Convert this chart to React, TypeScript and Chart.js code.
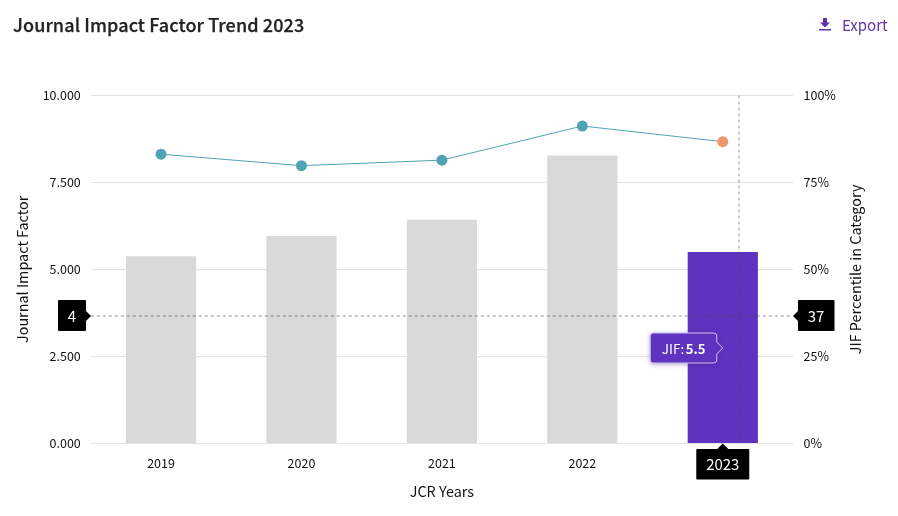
import React, { useEffect, useRef } from "react";
import { Chart, registerables } from "chart.js";

Chart.register(...registerables);

const FONT = '"Noto Sans CJK SC", "Noto Sans", sans-serif';
const PURPLE = "#5e33bf";
const TEAL = "#4fa3b5";
const ORANGE = "#f0976b";
const GREY = "#d9d9d9";

const years = ["2019", "2020", "2021", "2022", "2023"];
const jifValues = [5.38, 5.96, 6.43, 8.27, 5.5];
const percentileValues = [83.1, 79.8, 81.4, 91.2, 86.7];
const jifTicks = [0, 2.5, 5, 7.5, 10];
const crosshairJif = 3.65;
const crosshairYear = 4;
const crosshairOffsetPx = 16;
const leftLabel = "4";
const rightLabel = "37";
const bottomLabel = "2023";
const rightAxisTitle = "JIF Percentile in Category";

function roundedRect(ctx: CanvasRenderingContext2D, x: number, y: number, w: number, h: number, r: number) {
  ctx.beginPath();
  ctx.roundRect(x, y, w, h, r);
}

const overlay = {
  id: "overlay",
  afterDatasetsDraw(chart: any) {
    const { ctx, chartArea, scales } = chart;
    const cy = Math.round(scales.y.getPixelForValue(crosshairJif));
    const barX = scales.x.getPixelForValue(crosshairYear);
    const cx = Math.round(barX + crosshairOffsetPx);

    ctx.save();
    ctx.strokeStyle = "rgba(70,70,70,0.4)";
    ctx.lineWidth = 1.5;
    ctx.setLineDash([3, 3]);
    ctx.beginPath();
    ctx.moveTo(chartArea.left, cy);
    ctx.lineTo(chartArea.right, cy);
    ctx.moveTo(cx, chartArea.top);
    ctx.lineTo(cx, chartArea.bottom);
    ctx.stroke();
    ctx.setLineDash([]);

    ctx.textAlign = "center";
    ctx.textBaseline = "middle";
    ctx.font = `15px ${FONT}`;

    // left value flag
    ctx.fillStyle = "#000";
    roundedRect(ctx, 58, cy - 16, 28, 31, 1);
    ctx.fill();
    ctx.beginPath();
    ctx.moveTo(85, cy - 6);
    ctx.lineTo(91, cy);
    ctx.lineTo(85, cy + 6);
    ctx.fill();
    ctx.fillStyle = "#fff";
    ctx.fillText(leftLabel, 72, cy);

    // right value flag
    ctx.fillStyle = "#000";
    roundedRect(ctx, 798, cy - 16, 36.5, 31, 1);
    ctx.fill();
    ctx.beginPath();
    ctx.moveTo(799, cy - 6);
    ctx.lineTo(793, cy);
    ctx.lineTo(799, cy + 6);
    ctx.fill();
    ctx.fillStyle = "#fff";
    ctx.fillText(rightLabel, 816, cy);

    // bottom year flag
    const b = chartArea.bottom;
    ctx.fillStyle = "#fff";
    ctx.fillRect(barX - 30, b + 6, 60, 32);
    ctx.fillStyle = "#000";
    roundedRect(ctx, barX - 26.5, b + 5.5, 53, 30.5, 1);
    ctx.fill();
    ctx.beginPath();
    ctx.moveTo(barX - 6, b + 6);
    ctx.lineTo(barX, b);
    ctx.lineTo(barX + 6, b + 6);
    ctx.fill();
    ctx.fillStyle = "#fff";
    ctx.fillText(bottomLabel, barX, b + 21);

    // JIF tooltip
    const tipRight = barX - 6;
    const tipTop = cy + 17;
    ctx.save();
    ctx.shadowColor = "rgba(60,30,120,0.45)";
    ctx.shadowBlur = 5;
    ctx.shadowOffsetY = 1;
    ctx.fillStyle = PURPLE;
    ctx.beginPath();
    ctx.roundRect(tipRight - 66.5, tipTop, 66.5, 30, 3);
    ctx.fill();
    ctx.restore();
    ctx.fillStyle = PURPLE;
    ctx.strokeStyle = "#cfc3ee";
    ctx.lineWidth = 1;
    ctx.beginPath();
    ctx.moveTo(tipRight - 63.5, tipTop);
    ctx.lineTo(tipRight - 3, tipTop);
    ctx.quadraticCurveTo(tipRight, tipTop, tipRight, tipTop + 3);
    ctx.lineTo(tipRight, tipTop + 9);
    ctx.lineTo(tipRight + 6, tipTop + 15);
    ctx.lineTo(tipRight, tipTop + 21);
    ctx.lineTo(tipRight, tipTop + 27);
    ctx.quadraticCurveTo(tipRight, tipTop + 30, tipRight - 3, tipTop + 30);
    ctx.lineTo(tipRight - 63.5, tipTop + 30);
    ctx.quadraticCurveTo(tipRight - 66.5, tipTop + 30, tipRight - 66.5, tipTop + 27);
    ctx.lineTo(tipRight - 66.5, tipTop + 3);
    ctx.quadraticCurveTo(tipRight - 66.5, tipTop, tipRight - 63.5, tipTop);
    ctx.closePath();
    ctx.fill();
    ctx.stroke();
    ctx.fillStyle = "#fff";
    ctx.textAlign = "left";
    ctx.font = `13.5px ${FONT}`;
    ctx.fillText("JIF:", tipRight - 55, tipTop + 16);
    ctx.font = `bold 13px ${FONT}`;
    ctx.fillText(jifValues[crosshairYear].toFixed(1), tipRight - 31, tipTop + 16);

    // right axis title, reading upward
    ctx.translate(856, (chartArea.top + chartArea.bottom) / 2);
    ctx.rotate(-Math.PI / 2);
    ctx.textAlign = "center";
    ctx.fillStyle = "#111";
    ctx.font = `14.4px ${FONT}`;
    ctx.fillText(rightAxisTitle, 0, 0);
    ctx.restore();
  },
};

export default function App() {
  const ref = useRef<HTMLCanvasElement>(null);

  useEffect(() => {
    const chart = new Chart(ref.current!, {
      type: "bar",
      data: {
        labels: years,
        datasets: [
          {
            type: "line",
            label: "JIF Percentile",
            data: percentileValues,
            yAxisID: "y1",
            borderColor: TEAL,
            borderWidth: 1,
            tension: 0,
            pointRadius: 5.5,
            pointHoverRadius: 5.5,
            pointBorderWidth: 0,
            pointBackgroundColor: years.map((_, i) => (i === crosshairYear ? ORANGE : TEAL)),
            order: 0,
          } as any,
          {
            type: "bar",
            label: "Journal Impact Factor",
            data: jifValues,
            yAxisID: "y",
            backgroundColor: years.map((_, i) => (i === crosshairYear ? PURPLE : GREY)),
            categoryPercentage: 1,
            barPercentage: 0.5,
            order: 1,
          } as any,
        ],
      },
      options: {
        responsive: false,
        animation: false,
        devicePixelRatio: 1,
        layout: { padding: { top: 95.4, left: 0, right: 0, bottom: 0 } },
        plugins: { legend: { display: false }, tooltip: { enabled: false } },
        scales: {
          x: {
            offset: true,
            afterFit: (s: any) => { s.height = 72.6; },
            grid: { display: false },
            border: { display: false },
            ticks: { color: "#111", padding: 4, font: { family: FONT, size: 12.5 }, maxRotation: 0 },
            title: { display: true, text: "JCR Years", color: "#111", font: { family: FONT, size: 14.4 }, padding: { top: 0, bottom: 16 } },
          },
          y: {
            position: "left",
            min: 0,
            max: 10,
            afterFit: (s: any) => { s.width = 90.8; },
            afterBuildTicks: (s: any) => { s.ticks = jifTicks.map((value) => ({ value })); },
            grid: { color: "#e3e3e3", drawTicks: false, lineWidth: 1 },
            border: { display: false },
            ticks: { color: "#111", padding: 10, font: { family: FONT, size: 12.5 }, callback: (v: any) => Number(v).toFixed(3) },
            title: { display: true, text: "Journal Impact Factor", color: "#111", font: { family: FONT, size: 14.4 }, padding: { top: 14, bottom: 0 } },
          },
          y1: {
            position: "right",
            min: 0,
            max: 100,
            afterFit: (s: any) => { s.width = 105; },
            grid: { display: false, drawTicks: false },
            border: { display: false },
            ticks: { stepSize: 25, color: "#111", padding: 10.5, font: { family: FONT, size: 12.5 }, callback: (v: any) => `${v}%` },
          },
        },
      },
      plugins: [overlay],
    });
    return () => chart.destroy();
  }, []);

  return (
    <div style={{ position: "fixed", left: 0, top: 0, width: 898, height: 516, background: "#fff", fontFamily: FONT }}>
      <canvas ref={ref} width={898} height={516} style={{ display: "block" }} />
      <div style={{ position: "absolute", left: 13, top: 10, fontSize: 18, lineHeight: "28px", fontWeight: 500, color: "#222", whiteSpace: "nowrap", letterSpacing: 0.1, WebkitTextStroke: "0.25px #222" }}>
        Journal Impact Factor Trend 2023
      </div>
      <div style={{ position: "absolute", left: 819, top: 11.5, display: "flex", alignItems: "center", color: "#5e33a8", fontSize: 15, lineHeight: "26px" }}>
        <svg width="12" height="13" viewBox="0 0 12 13" style={{ marginRight: 11 }}>
          <path d="M4 0h4v4.5h3L6 9.5 1 4.5h3z M0 11h12v1.6H0z" fill="#5e33a8" />
        </svg>
        Export
      </div>
    </div>
  );
}
